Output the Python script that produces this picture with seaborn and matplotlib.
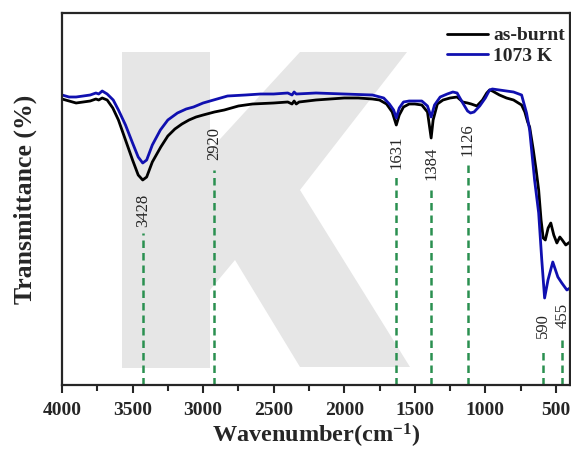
import numpy as np
import matplotlib
matplotlib.use("Agg")
import matplotlib.pyplot as plt
import seaborn as sns
from matplotlib.patches import Polygon

# FTIR spectra (transmittance in arbitrary units)
burnt_wn = [4000, 3950, 3900, 3850, 3800, 3760, 3740, 3715, 3680, 3640, 3600, 3550, 3500,
            3460, 3428, 3400, 3360, 3300, 3250, 3200, 3150, 3100, 3050, 3000, 2920, 2850,
            2750, 2650, 2500, 2400, 2370, 2355, 2340, 2320, 2200, 2100, 2000, 1900, 1800,
            1750, 1700, 1660, 1631, 1610, 1580, 1540, 1500, 1450, 1410, 1384, 1370, 1340,
            1300, 1250, 1200, 1160, 1126, 1100, 1060, 1020, 990, 970, 950, 900, 850, 800,
            743, 720, 700, 686, 660, 640, 622, 605, 590, 575, 555, 536, 515, 493, 472, 455,
            430, 400]
burnt_t = [286, 284, 282, 283, 284, 286, 285, 287, 285, 277, 265, 245, 225,
           210, 205, 208, 223, 238, 249, 256, 261, 265, 268, 270, 273, 275,
           279, 281, 282, 283, 281, 284, 281, 283, 285, 286, 287, 287, 286,
           285, 281, 273, 260, 270, 278, 281, 281, 280, 273, 247, 265, 281,
           285, 287, 288, 283, 282, 281, 279, 285, 292, 295, 294, 290, 287, 285,
           280, 273, 263, 258, 235, 215, 195, 165, 147, 145, 157, 162, 150, 142, 148, 145,
           140, 143]

k1073_wn = [4000, 3950, 3900, 3850, 3800, 3760, 3740, 3715, 3680, 3637, 3600, 3550, 3500,
            3460, 3428, 3400, 3360, 3303, 3250, 3182, 3120, 3068, 3000, 2926, 2827, 2700,
            2592, 2500, 2400, 2370, 2355, 2340, 2200, 2000, 1800, 1720, 1680, 1650, 1631,
            1610, 1580, 1540, 1500, 1450, 1410, 1384, 1360, 1320, 1270, 1230, 1200, 1160,
            1126, 1105, 1080, 1040, 1000, 970, 950, 900, 850, 800, 743, 708, 686, 651, 622,
            600, 580, 556, 522, 486, 458, 422, 400]
k1073_t = [290, 288, 288, 289, 290, 292, 291, 294, 291, 285, 275, 260, 242,
           228, 222, 225, 240, 255, 265, 272, 276, 278, 282, 285, 289, 290,
           291, 291, 292, 290, 293, 291, 292, 291, 290, 287, 281, 275, 267,
           277, 283, 284, 284, 284, 279, 268, 280, 288, 291, 293, 292, 282,
           274, 272, 273, 279, 287, 295, 296, 295, 294, 293, 290, 272, 255, 205, 172,
           125, 87, 105, 123, 108, 102, 95, 97]

# marked bands: position, top of dashed guide, label centre
peak_wn = [3428, 2920, 1631, 1384, 1126, 590, 455]
peak_top = [152, 215, 208, 195, 220, 37, 48]
peak_lab = [175, 242, 233, 222, 245, 59, 70]

sns.set_style("ticks")
plt.rcParams["font.family"] = ["Liberation Serif", "DejaVu Serif"]
plt.rcParams["mathtext.fontset"] = "custom"
plt.rcParams["mathtext.rm"] = "Liberation Serif:bold"
plt.rcParams["mathtext.default"] = "rm"

fig = plt.figure(figsize=(5.71, 4.5), dpi=100)
ax = fig.add_axes([62 / 571, 65 / 450, 508 / 571, 372 / 450])

# grey "K" watermark behind the curves
k_px = [(122, 52), (210, 52), (210, 150), (300, 52), (407, 52), (300, 190), (410, 367),
        (300, 367), (235, 260), (210, 290), (210, 368), (122, 368)]
k_fig = [(x / 571, 1 - y / 450) for x, y in k_px]
ax.add_patch(Polygon(k_fig, closed=True, transform=fig.transFigure,
                     facecolor="#e6e6e6", edgecolor="none", zorder=0, clip_on=False))

sns.lineplot(x=burnt_wn, y=burnt_t, color="black", linewidth=2, label="as-burnt", ax=ax)
sns.lineplot(x=k1073_wn, y=k1073_t, color="#1010b0", linewidth=2, label="1073 K", ax=ax)

ax.vlines(peak_wn, 0, peak_top, colors="#2a9050", linestyles=(0, (3, 2)), linewidth=1.8)
for w, yl in zip(peak_wn, peak_lab):
    ax.text(w, yl, str(w), rotation=90, ha="center", va="center", fontsize=12)

ax.set_xlim(4000, 400)
ax.set_ylim(0, 372)
ax.set_xticks([4000, 3500, 3000, 2500, 2000, 1500, 1000, 500])
ax.set_xticks(np.arange(3750, 400, -500), minor=True)
ax.set_yticks([])
ax.tick_params(axis="x", which="major", direction="out", length=6, width=1.5,
               labelsize=14, pad=6)
ax.tick_params(axis="x", which="minor", direction="out", length=4, width=1.5)
for lab in ax.get_xticklabels():
    lab.set_fontweight("bold")
for s in ax.spines.values():
    s.set_linewidth(1.6)
    s.set_visible(True)

ax.set_xlabel("Wavenumber(cm$^{-1}$)", fontsize=17.5, fontweight="bold", labelpad=2)
ax.set_ylabel("Transmittance (%)", fontsize=18.5, fontweight="bold", labelpad=18)

leg = ax.legend(loc="upper right", bbox_to_anchor=(1.025, 1.01), frameon=False,
                handlelength=2.1, handletextpad=0.3, labelspacing=0.15,
                prop={"weight": "bold", "size": 14})

fig.savefig("out.png", dpi=100)
